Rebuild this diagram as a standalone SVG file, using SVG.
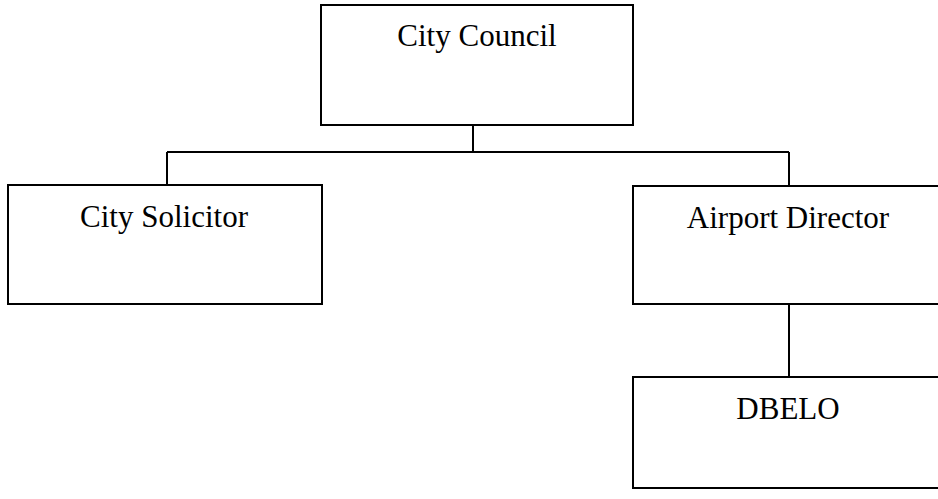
<svg xmlns="http://www.w3.org/2000/svg" width="938" height="499" viewBox="0 0 938 499">
<style>
.box{fill:#fff;stroke:#000;stroke-width:2}
.lbl{font-family:"Liberation Serif","Times New Roman",serif;font-size:31px;fill:#000;text-anchor:middle}
.con{fill:none;stroke:#000;stroke-width:2}
</style>
<rect width="938" height="499" fill="#fff"/>
<g id="connectors">
<path class="con" d="M473,125 V152 M167,152 H789 M167,152 V185 M789,152 V186 M789,304 V377"/>
</g>
<g id="city-council">
<rect class="box" x="321" y="5" width="312" height="120"/>
<text class="lbl" x="477" y="46">City Council</text>
</g>
<g id="city-solicitor">
<rect class="box" x="8" y="185" width="314" height="119"/>
<text class="lbl" x="164" y="227">City Solicitor</text>
</g>
<g id="airport-director">
<rect class="box" x="633" y="186" width="310" height="118"/>
<text class="lbl" x="788" y="228">Airport Director</text>
</g>
<g id="dbelo">
<rect class="box" x="633" y="377" width="310" height="111"/>
<text class="lbl" x="788" y="419">DBELO</text>
</g>
</svg>
